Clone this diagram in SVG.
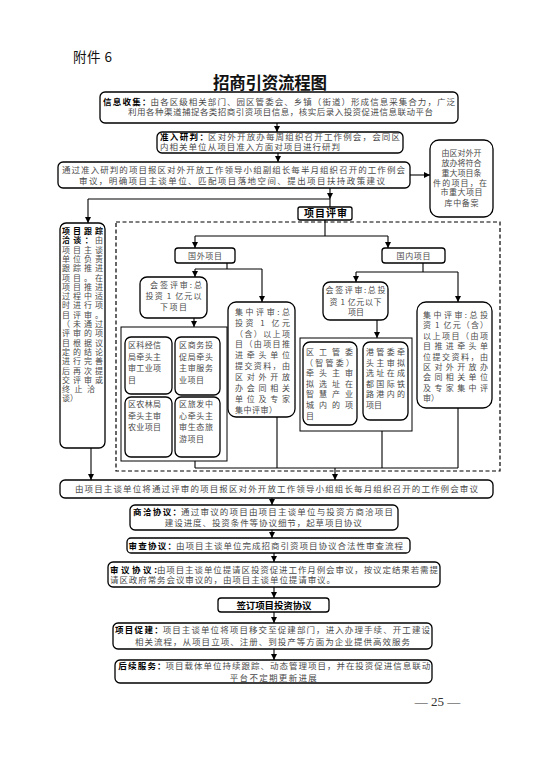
<svg xmlns="http://www.w3.org/2000/svg" width="543" height="768" viewBox="0 0 543 768">
<defs>
<marker id="ah" markerUnits="userSpaceOnUse" markerWidth="6" markerHeight="6" refX="6" refY="3" orient="auto"><path d="M0,0 L6,3 L0,6 z" fill="#000"/></marker>
<style>
.bx{fill:#fff;stroke:#000;stroke-width:1.3}
.ct{fill:none;stroke:#000;stroke-width:1}
.ln{fill:none;stroke:#000;stroke-width:1.1}
.ar{fill:none;stroke:#000;stroke-width:1.1;marker-end:url(#ah)}
.ds{fill:none;stroke:#000;stroke-width:1.2;stroke-dasharray:4 2.5}
text{font-family:"Noto Sans CJK SC","Noto Sans",sans-serif;font-size:8.5px;fill:#4a4a4a}
.s{font-size:8px}
.m{text-anchor:middle}
.k{font-weight:bold;fill:#000}
</style>
</defs>
<rect width="543" height="768" fill="#fff"/>

<g id="header">
<text x="73" y="62" style="font-size:13.5px;fill:#111" textLength="39" lengthAdjust="spacing">附件 6</text>
<text x="270" y="89" class="m k" style="font-size:16.5px;fill:#111" textLength="114" lengthAdjust="spacing">招商引资流程图</text>
</g>

<g id="connectors">
<path class="ar" d="M277,123 V132"/>
<path class="ar" d="M278,153 V162"/>
<path class="ar" d="M410,175 H430"/>
<path class="ar" d="M330,188 V199"/>
<path class="ln" d="M330,199 V207"/>
<path class="ln" d="M88,199 H330"/>
<path class="ar" d="M88,199 V223"/>
<path class="ln" d="M325,220 V236 M195,236 H388"/>
<path class="ar" d="M195,236 V248"/>
<path class="ar" d="M388,236 V248"/>
<path class="ln" d="M227,263 V269 M195,269 H262"/>
<path class="ar" d="M195,269 V277"/>
<path class="ar" d="M262,269 V302"/>
<path class="ar" d="M194,318 V327"/>
<path class="ln" d="M423,263 V272 M356,272 H458"/>
<path class="ar" d="M356,272 V282"/>
<path class="ar" d="M458,272 V302"/>
<path class="ar" d="M377,320 V338"/>
<path class="ln" d="M195,461 V468 M277,417 V468 M382,431 V468 M458,408 V468 M195,468 H458"/>
<path class="ar" d="M335,468 V480"/>
<path class="ar" d="M91,448 V480"/>
<path class="ar" d="M272,498 V505"/>
<path class="ar" d="M272,530 V538"/>
<path class="ar" d="M274,553 V562"/>
<path class="ar" d="M274,587 V598"/>
<path class="ar" d="M274,612 V623"/>
<path class="ar" d="M274,649 V660"/>
</g>

<g id="review-area">
<rect class="ds" x="116" y="222" width="384" height="249"/>
</g>

<g id="n-collect">
<rect class="bx" x="100" y="92" width="358" height="31" rx="5"/>
<text x="103" y="105.3" class="k" textLength="47.6" lengthAdjust="spacing">信息收集：</text>
<text x="150.6" y="105.3" textLength="304.4" lengthAdjust="spacing">由各区级相关部门、园区管委会、乡镇（街道）形成信息采集合力，广泛</text>
<text x="280.5" y="115" class="m" textLength="305" lengthAdjust="spacing">利用各种渠道捕捉各类招商引资项目信息，核实后录入投资促进信息联动平台</text>
</g>

<g id="n-access">
<rect class="bx" x="157" y="132" width="246" height="21" rx="5"/>
<text x="160" y="139.6" class="k" textLength="48" lengthAdjust="spacing">准入研判：</text>
<text x="208" y="139.6" textLength="192" lengthAdjust="spacing">区对外开放办每周组织召开工作例会，会同区</text>
<text x="160" y="150.3" textLength="180" lengthAdjust="spacing">内相关单位从项目准入方面对项目进行研判</text>
</g>

<g id="n-report">
<rect class="bx" x="58" y="162" width="352" height="26" rx="5"/>
<text x="233.5" y="173.3" class="m" textLength="343" lengthAdjust="spacing">通过准入研判的项目报区对外开放工作领导小组副组长每半月组织召开的工作例会</text>
<text x="232" y="184.3" class="m" textLength="306" lengthAdjust="spacing">审议，明确项目主谈单位、匹配项目落地空间、提出项目扶持政策建议</text>
</g>

<g id="n-record">
<rect class="bx" x="430" y="140" width="63" height="77" rx="9"/>
<text x="461.5" y="156.3" class="m s" textLength="40" lengthAdjust="spacing">由区对外开</text>
<text x="461.5" y="166" class="m s" textLength="40" lengthAdjust="spacing">放办将符合</text>
<text x="461.5" y="175.6" class="m s" textLength="40" lengthAdjust="spacing">重大项目条</text>
<text x="460" y="185.6" class="m s" textLength="54" lengthAdjust="spacing">件的项目，在</text>
<text x="461.5" y="195" class="m s" textLength="42" lengthAdjust="spacing">市重大项目</text>
<text x="461.5" y="206.3" class="m s" textLength="34" lengthAdjust="spacing">库中备案</text>
</g>

<g id="n-review">
<rect class="bx" x="298" y="207" width="54" height="13" rx="2"/>
<text x="325.5" y="217" class="m k" style="font-size:10px" textLength="43" lengthAdjust="spacing">项目评审</text>
</g>

<g id="n-track">
<rect class="bx" x="60" y="223" width="45" height="225" rx="6"/>
<text x="62" y="234" class="s k" textLength="41" lengthAdjust="spacing">项目跟踪</text>
<text x="62" y="243.3" class="s k" textLength="30.7" lengthAdjust="spacing">洽谈：</text>
<text x="95" y="243.3" class="s">由</text>
<text x="62" y="252.6" class="s" textLength="41" lengthAdjust="spacing">项目主谈</text>
<text x="62" y="261.9" class="s" textLength="41" lengthAdjust="spacing">单位负责</text>
<text x="62" y="271.2" class="s" textLength="41" lengthAdjust="spacing">跟踪推进</text>
<text x="62" y="280.5" class="s" textLength="41" lengthAdjust="spacing">项目。在</text>
<text x="62" y="289.8" class="s" textLength="41" lengthAdjust="spacing">项目推进</text>
<text x="62" y="299.1" class="s" textLength="41" lengthAdjust="spacing">过程中适</text>
<text x="62" y="308.4" class="s" textLength="41" lengthAdjust="spacing">时进行项</text>
<text x="62" y="317.7" class="s" textLength="41" lengthAdjust="spacing">目评审。</text>
<text x="62" y="327" class="s" textLength="41" lengthAdjust="spacing">（未通过</text>
<text x="62" y="336.3" class="s" textLength="41" lengthAdjust="spacing">评审的项</text>
<text x="62" y="345.6" class="s" textLength="41" lengthAdjust="spacing">目根据议</text>
<text x="62" y="354.9" class="s" textLength="41" lengthAdjust="spacing">定的结论</text>
<text x="62" y="364.2" class="s" textLength="41" lengthAdjust="spacing">进行完善</text>
<text x="62" y="373.5" class="s" textLength="41" lengthAdjust="spacing">后再次提</text>
<text x="62" y="382.8" class="s" textLength="41" lengthAdjust="spacing">交评审或</text>
<text x="62" y="392.1" class="s" textLength="33" lengthAdjust="spacing">终止洽</text>
<text x="62" y="401.4" class="s">谈）</text>
</g>

<g id="n-foreign">
<rect class="bx" x="175" y="248" width="60" height="15" rx="3"/>
<text x="205" y="258.5" class="m s" textLength="34" lengthAdjust="spacing">国外项目</text>
</g>

<g id="n-domestic">
<rect class="bx" x="382" y="248" width="63" height="15" rx="3"/>
<text x="413.5" y="258.5" class="m s" textLength="34" lengthAdjust="spacing">国内项目</text>
</g>

<g id="n-f-sign">
<rect class="bx" x="140" y="277" width="67" height="41" rx="7"/>
<text x="176" y="288" class="m s" textLength="52" lengthAdjust="spacing">会签评审:总</text>
<text x="173.5" y="299" class="m s" textLength="56" lengthAdjust="spacing">投资 1 亿元以</text>
<text x="173.5" y="310" class="m s" textLength="27" lengthAdjust="spacing">下项目</text>
</g>

<g id="n-f-central">
<rect class="bx" x="228" y="302" width="67" height="115" rx="8"/>
<text x="235" y="314.7" class="s" textLength="55" lengthAdjust="spacing">集中评审:总</text>
<text x="235" y="325.6" class="s" textLength="55" lengthAdjust="spacing">投资 1 亿元</text>
<text x="235" y="336.5" class="s" textLength="55" lengthAdjust="spacing">（含）以上项</text>
<text x="235" y="347.4" class="s" textLength="55" lengthAdjust="spacing">目（由项目推</text>
<text x="235" y="358.3" class="s" textLength="55" lengthAdjust="spacing">进牵头单位</text>
<text x="235" y="369.2" class="s" textLength="55" lengthAdjust="spacing">提交资料，由</text>
<text x="235" y="380.1" class="s" textLength="55" lengthAdjust="spacing">区对外开放</text>
<text x="235" y="391" class="s" textLength="55" lengthAdjust="spacing">办会同相关</text>
<text x="235" y="401.9" class="s" textLength="55" lengthAdjust="spacing">单位及专家</text>
<text x="235" y="412.8" class="s" textLength="42" lengthAdjust="spacing">集中评审）</text>
</g>

<g id="n-f-group">
<rect class="ct" x="121" y="327" width="106" height="134"/>
</g>

<g id="n-f-industry">
<rect class="bx" x="125" y="337" width="47" height="57" rx="6"/>
<text x="128" y="348" class="s" textLength="33" lengthAdjust="spacing">区科经信</text>
<text x="128" y="359.5" class="s" textLength="33" lengthAdjust="spacing">局牵头主</text>
<text x="128" y="371" class="s" textLength="33" lengthAdjust="spacing">审工业项</text>
<text x="128" y="382.5" class="s">目</text>
</g>

<g id="n-f-service">
<rect class="bx" x="175" y="337" width="45" height="58" rx="6"/>
<text x="179" y="348" class="s" textLength="34" lengthAdjust="spacing">区商务投</text>
<text x="179" y="359.5" class="s" textLength="34" lengthAdjust="spacing">促局牵头</text>
<text x="179" y="371" class="s" textLength="34" lengthAdjust="spacing">主审服务</text>
<text x="179" y="382.5" class="s" textLength="25" lengthAdjust="spacing">业项目</text>
</g>

<g id="n-f-agri">
<rect class="bx" x="125" y="397" width="47" height="60" rx="6"/>
<text x="128" y="407" class="s" textLength="33" lengthAdjust="spacing">区农林局</text>
<text x="128" y="418.5" class="s" textLength="33" lengthAdjust="spacing">牵头主审</text>
<text x="128" y="430" class="s" textLength="33" lengthAdjust="spacing">农业项目</text>
</g>

<g id="n-f-tour">
<rect class="bx" x="175" y="397" width="45" height="60" rx="6"/>
<text x="179" y="407" class="s" textLength="34" lengthAdjust="spacing">区旅发中</text>
<text x="179" y="418.5" class="s" textLength="34" lengthAdjust="spacing">心牵头主</text>
<text x="179" y="430" class="s" textLength="34" lengthAdjust="spacing">审生态旅</text>
<text x="179" y="441.5" class="s" textLength="25" lengthAdjust="spacing">游项目</text>
</g>

<g id="n-d-sign">
<rect class="bx" x="323" y="282" width="65" height="38" rx="7"/>
<text x="355.5" y="293" class="m s" textLength="60" lengthAdjust="spacing">会签评审:总投</text>
<text x="355.5" y="304.7" class="m s" textLength="52" lengthAdjust="spacing">资 1 亿元以下</text>
<text x="356" y="315.3" class="m s">项目</text>
</g>

<g id="n-d-central">
<rect class="bx" x="417" y="302" width="75" height="106" rx="9"/>
<text x="423" y="318" class="s" textLength="65" lengthAdjust="spacing">集中评审:总投</text>
<text x="423" y="328.4" class="s" textLength="65" lengthAdjust="spacing">资 1 亿元（含）</text>
<text x="423" y="338.8" class="s" textLength="65" lengthAdjust="spacing">以上项目（由项</text>
<text x="423" y="349.2" class="s" textLength="65" lengthAdjust="spacing">目推进牵头单</text>
<text x="423" y="359.6" class="s" textLength="65" lengthAdjust="spacing">位提交资料，由</text>
<text x="423" y="370" class="s" textLength="65" lengthAdjust="spacing">区对外开放办</text>
<text x="423" y="380.4" class="s" textLength="65" lengthAdjust="spacing">会同相关单位</text>
<text x="423" y="390.8" class="s" textLength="65" lengthAdjust="spacing">及专家集中评</text>
<text x="423" y="401.2" class="s">审）</text>
</g>

<g id="n-d-group">
<rect class="ct" x="300" y="338" width="112" height="93"/>
</g>

<g id="n-d-smart">
<rect class="bx" x="303" y="342" width="54" height="83" rx="7"/>
<text x="306" y="355" class="s" textLength="47" lengthAdjust="spacing">区工管委</text>
<text x="305" y="365.6" class="s" textLength="49" lengthAdjust="spacing">（智管委）</text>
<text x="306" y="376.2" class="s" textLength="47" lengthAdjust="spacing">牵头主审</text>
<text x="306" y="386.8" class="s" textLength="47" lengthAdjust="spacing">拟选址在</text>
<text x="306" y="397.4" class="s" textLength="47" lengthAdjust="spacing">智慧产业</text>
<text x="306" y="408" class="s" textLength="47" lengthAdjust="spacing">城内的项</text>
<text x="306" y="418.6" class="s">目</text>
</g>

<g id="n-d-port">
<rect class="bx" x="363" y="342" width="45" height="78" rx="7"/>
<text x="366" y="355" class="s" textLength="39" lengthAdjust="spacing">港管委牵</text>
<text x="366" y="365.6" class="s" textLength="39" lengthAdjust="spacing">头主审拟</text>
<text x="366" y="376.2" class="s" textLength="39" lengthAdjust="spacing">选址在成</text>
<text x="366" y="386.8" class="s" textLength="39" lengthAdjust="spacing">都国际铁</text>
<text x="366" y="397.4" class="s" textLength="39" lengthAdjust="spacing">路港内的</text>
<text x="366" y="408" class="s">项目</text>
</g>

<g id="n-meeting">
<rect class="bx" x="60" y="480" width="433" height="18" rx="5"/>
<text x="276.5" y="492.2" class="m" textLength="403" lengthAdjust="spacing">由项目主谈单位将通过评审的项目报区对外开放工作领导小组组长每月组织召开的工作例会审议</text>
</g>

<g id="n-negotiate">
<rect class="bx" x="130" y="505" width="268" height="25" rx="5"/>
<text x="133" y="515.2" class="k" textLength="48.1" lengthAdjust="spacing">商洽协议：</text>
<text x="181.1" y="515.2" textLength="211.9" lengthAdjust="spacing">通过审议的项目由项目主谈单位与投资方商洽项目</text>
<text x="263.3" y="526" class="m" textLength="197" lengthAdjust="spacing">建设进度、投资条件等协议细节，起草项目协议</text>
</g>

<g id="n-check">
<rect class="bx" x="127" y="538" width="283" height="15" rx="4"/>
<text x="128.5" y="548.7" class="k" textLength="47.4" lengthAdjust="spacing">审查协议：</text>
<text x="175.9" y="548.7" textLength="227.1" lengthAdjust="spacing">由项目主谈单位完成招商引资项目协议合法性审查流程</text>
</g>

<g id="n-deliberate">
<rect class="bx" x="108" y="562" width="332" height="25" rx="5"/>
<text x="110" y="572.6" class="k" textLength="46.9" lengthAdjust="spacing">审议协议:</text>
<text x="156.9" y="572.6" textLength="281.1" lengthAdjust="spacing">由项目主谈单位提请区投资促进工作月例会审议，按议定结果若需提</text>
<text x="110" y="583.3" textLength="225" lengthAdjust="spacing">请区政府常务会议审议的，由项目主谈单位提请审议。</text>
</g>

<g id="n-sign">
<rect class="bx" x="218" y="598" width="111" height="14" rx="3"/>
<text x="274" y="608.6" class="m k" style="font-size:9.5px" textLength="75" lengthAdjust="spacing">签订项目投资协议</text>
</g>

<g id="n-promote">
<rect class="bx" x="113" y="623" width="319" height="26" rx="5"/>
<text x="115" y="633.3" class="k" textLength="47.7" lengthAdjust="spacing">项目促建：</text>
<text x="162.7" y="633.3" textLength="267.3" lengthAdjust="spacing">项目主谈单位将项目移交至促建部门，进入办理手续、开工建设</text>
<text x="272.5" y="645" class="m" textLength="275" lengthAdjust="spacing">相关流程，从项目立项、注册、到投产等方面为企业提供高效服务</text>
</g>

<g id="n-follow">
<rect class="bx" x="115" y="660" width="317" height="23" rx="5"/>
<text x="118.3" y="669.3" class="k" textLength="47.3" lengthAdjust="spacing">后续服务：</text>
<text x="165.6" y="669.3" textLength="264.7" lengthAdjust="spacing">项目载体单位持续跟踪、动态管理项目，并在投资促进信息联动</text>
<text x="273.3" y="681.4" class="m" textLength="87" lengthAdjust="spacing">平台不定期更新进展</text>
</g>

<g id="page-number">
<text x="437.5" y="706" class="m" style="font-family:'Liberation Serif',serif;font-size:13px;fill:#333">— 25 —</text>
</g>
</svg>
